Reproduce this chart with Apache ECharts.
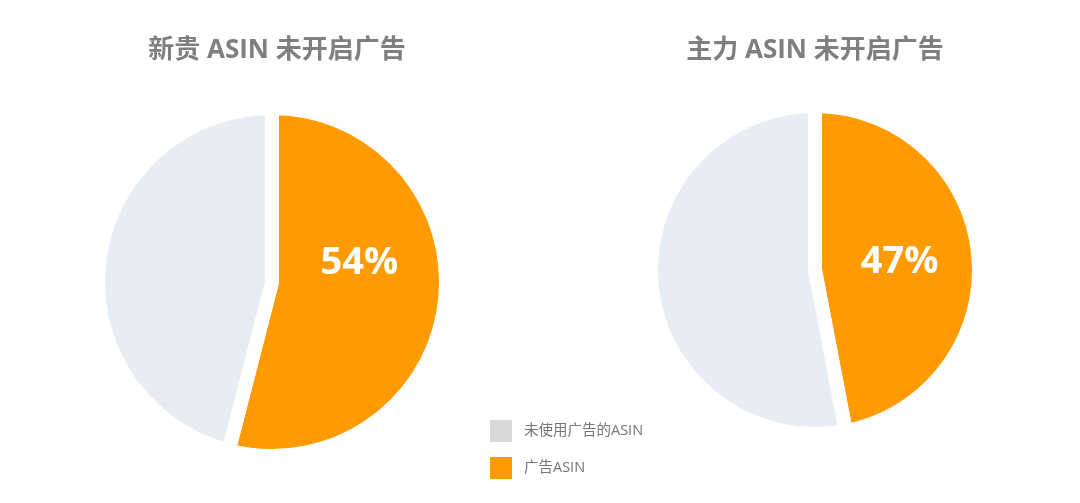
<!DOCTYPE html>
<html>
<head>
<meta charset="utf-8">
<script src="https://cdn.jsdelivr.net/npm/echarts@6/dist/echarts.min.js"></script>
<style>
  html, body { margin: 0; padding: 0; background: #fff; }
  #main { width: 1080px; height: 503px; }
</style>
</head>
<body>
<div id="main"></div>
<script>
// 数据
const categories = ['广告ASIN', '未使用广告的ASIN'];
const leftValues = [54, 46];   // 新贵
const rightValues = [47, 53];  // 主力
const titles = ['新贵 ASIN 未开启广告', '主力 ASIN 未开启广告'];

const pieColors = ['#ff9a00', '#e8edf3'];
const legendColors = { '广告ASIN': '#ff9a00', '未使用广告的ASIN': '#d9d9d9' };
const fontFamily = '"Open Sans", "Noto Sans CJK SC", sans-serif';

function buildData(values) {
    return categories.map((name, i) => ({
        name: name,
        value: values[i],
        itemStyle: { color: pieColors[i] },
        label: { show: i === 0 }
    }));
}

function pieSeries(values, center, radius, offset) {
    return {
        type: 'pie',
        center: center,
        radius: radius,
        startAngle: 90,
        clockwise: true,
        silent: true,
        itemStyle: { borderColor: '#fff', borderWidth: 14 },
        label: {
            position: 'inside',
            formatter: '{d}%',
            color: '#fff',
            fontSize: 38,
            fontWeight: 'bold',
            fontFamily: fontFamily,
            offset: offset
        },
        labelLine: { show: false },
        data: buildData(values)
    };
}

const chart = echarts.init(document.getElementById('main'));
chart.setOption({
    backgroundColor: '#fff',
    animation: false,
    title: [{
        text: titles[0],
        left: 272, top: 33, textAlign: 'center',
        textStyle: { color: '#7f7f7f', fontSize: 26, fontWeight: 'bold', fontFamily: fontFamily }
    }, {
        text: titles[1],
        left: 810, top: 33, textAlign: 'center',
        textStyle: { color: '#7f7f7f', fontSize: 26, fontWeight: 'bold', fontFamily: fontFamily }
    }],
    legend: {
        orient: 'vertical',
        left: 483, top: 413,
        itemWidth: 24, itemHeight: 24, itemGap: 11,
        icon: 'rect',
        selectedMode: false,
        textStyle: { color: '#757575', fontSize: 14.5, fontFamily: fontFamily, padding: [0, 0, 0, 6] },
        data: ['未使用广告的ASIN', '广告ASIN'].map(n => ({ name: n, itemStyle: { color: legendColors[n] } }))
    },
    series: [
        pieSeries(leftValues, [272, 282], 174, [-2, -30]),
        pieSeries(rightValues, [815, 270], 164, [0, 0])
    ]
});
</script>
</body>
</html>
